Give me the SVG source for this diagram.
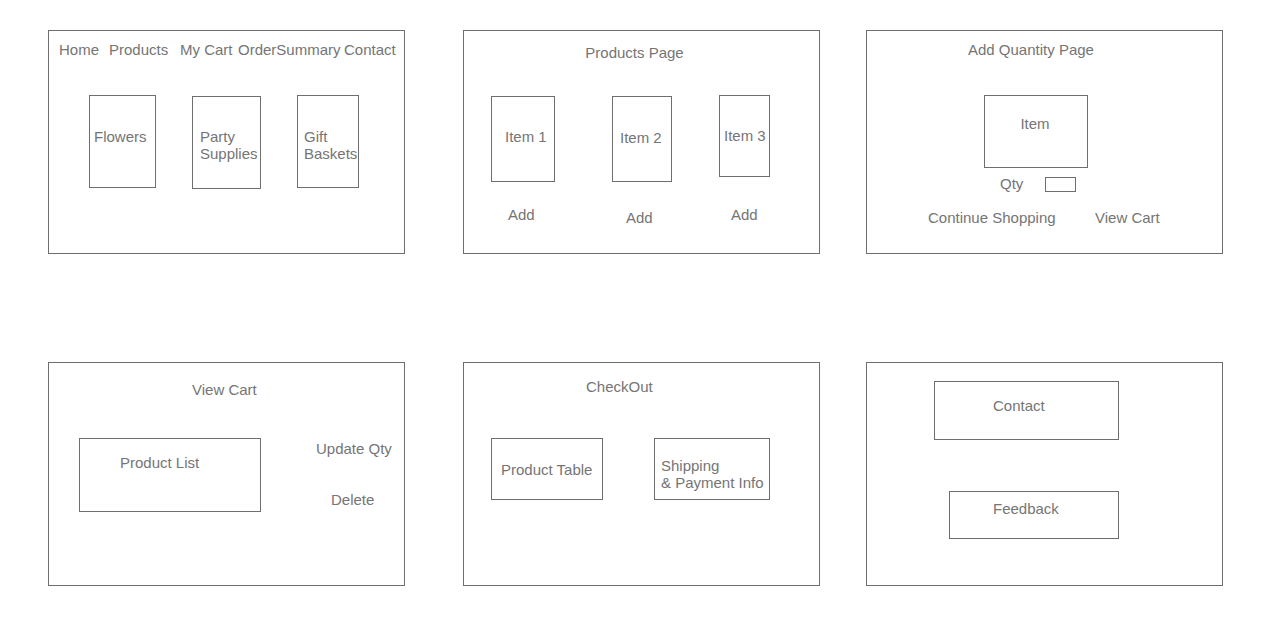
<svg xmlns="http://www.w3.org/2000/svg" width="1269" height="625" viewBox="0 0 1269 625">
<style>
rect{fill:#fff;stroke:#6e6e6e;stroke-width:1}
text{font-family:"Liberation Sans",Arial,sans-serif;font-size:15px;fill:#757575}
.c{text-anchor:middle}
</style>
<rect x="0" y="0" width="1269" height="625" style="stroke:none"/>
<g id="home-page">
<rect x="48.5" y="30.5" width="356" height="223"/>
<text x="59" y="55">Home</text>
<text x="109" y="55">Products</text>
<text x="180" y="55">My Cart</text>
<text x="238" y="55">OrderSummary</text>
<text x="344" y="55">Contact</text>
<g id="flowers"><rect x="89.5" y="95.5" width="66" height="92"/><text x="94" y="142">Flowers</text></g>
<g id="party-supplies"><rect x="192.5" y="96.5" width="68" height="92"/><text x="200" y="142">Party</text><text x="200" y="159">Supplies</text></g>
<g id="gift-baskets"><rect x="297.5" y="95.5" width="61" height="92"/><text x="304" y="142">Gift</text><text x="304" y="159">Baskets</text></g>
</g>
<g id="products-page">
<rect x="463.5" y="30.5" width="356" height="223"/>
<text x="634.5" y="58" class="c">Products Page</text>
<g id="item1"><rect x="491.5" y="96.5" width="63" height="85"/><text x="505" y="142">Item 1</text></g>
<g id="item2"><rect x="612.5" y="96.5" width="59" height="85"/><text x="620" y="143">Item 2</text></g>
<g id="item3"><rect x="719.5" y="95.5" width="50" height="81"/><text x="724" y="141">Item 3</text></g>
<text x="508" y="220">Add</text>
<text x="626" y="223">Add</text>
<text x="731" y="220">Add</text>
</g>
<g id="add-quantity-page">
<rect x="866.5" y="30.5" width="356" height="223"/>
<text x="968" y="55">Add Quantity Page</text>
<g id="item"><rect x="984.5" y="95.5" width="103" height="72"/><text x="1035" y="129" class="c">Item</text></g>
<text x="1000" y="189">Qty</text>
<g id="qty-box"><rect x="1045.5" y="177.5" width="30" height="14"/></g>
<text x="928" y="223">Continue Shopping</text>
<text x="1095" y="223">View Cart</text>
</g>
<g id="view-cart-page">
<rect x="48.5" y="362.5" width="356" height="223"/>
<text x="192" y="395">View Cart</text>
<g id="product-list"><rect x="79.5" y="438.5" width="181" height="73"/><text x="120" y="468">Product List</text></g>
<text x="316" y="454">Update Qty</text>
<text x="331" y="505">Delete</text>
</g>
<g id="checkout-page">
<rect x="463.5" y="362.5" width="356" height="223"/>
<text x="586" y="392">CheckOut</text>
<g id="product-table"><rect x="491.5" y="438.5" width="111" height="61"/><text x="501" y="475">Product Table</text></g>
<g id="shipping-payment"><rect x="654.5" y="438.5" width="115" height="61"/><text x="661" y="471">Shipping</text><text x="661" y="488">&amp; Payment Info</text></g>
</g>
<g id="contact-page">
<rect x="866.5" y="362.5" width="356" height="223"/>
<g id="contact"><rect x="934.5" y="381.5" width="184" height="58"/><text x="993" y="411">Contact</text></g>
<g id="feedback"><rect x="949.5" y="491.5" width="169" height="47"/><text x="993" y="514">Feedback</text></g>
</g>
<g id="connectors"/>
</svg>
